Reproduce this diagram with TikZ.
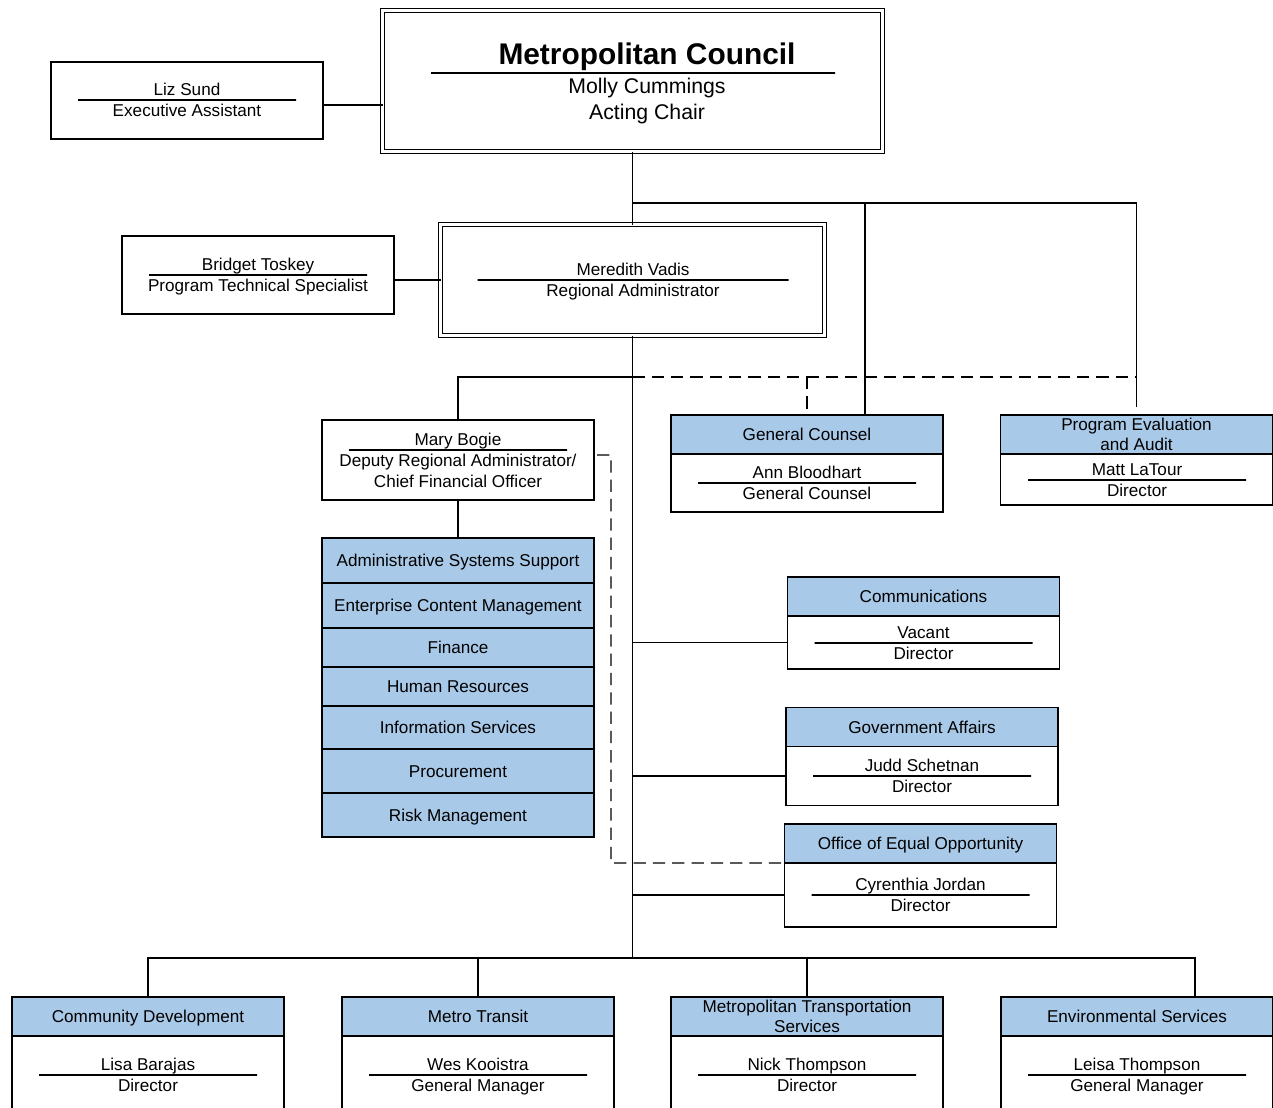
\documentclass[tikz,border=0pt]{standalone}
\usepackage{fontspec}
\setmainfont{Liberation Sans}
\usepackage{tikz}
\usetikzlibrary{positioning}
\definecolor{hdrBlue}{RGB}{169,201,232}
\newlength{\pxu}
\setlength{\pxu}{0.02cm}
\newcommand{\orgfont}{\fontsize{9.75}{11.3}\selectfont}
\newcommand{\person}[6][218]{%
  \node[who] (#2-name) at (#3,#4) {#5};
  \node[namerule=#1] (#2-rule) at (#3,#4+11) {};
  \node[who] (#2-title) at (#3,#4+21) {#6};
}

\begin{document}
\begin{tikzpicture}[x=0.02cm, y=-0.02cm, line width=0.8pt]
  \tikzset{
    box/.style={draw, inner sep=0pt, outer sep=0pt, minimum width={272*\pxu}},
    chief/.style={box, double, double distance=1.4pt},
    hdr/.style={box, fill=hdrBlue, minimum height={39*\pxu}, font=\orgfont},
    hdrone/.style={hdr, text height=7pt, text depth=0pt},
    who/.style={inner sep=0pt, font=\orgfont, text height=7pt, text depth=0pt},
    namerule/.style={draw, inner sep=0pt, outer sep=0pt, minimum height=0pt, minimum width={#1*\pxu}},
    dashed link/.style={dash pattern=on 7pt off 4pt}
  }
  \clip (0,0) rectangle (1273,1107);

  \node[chief, minimum width={500*\pxu}, minimum height={141*\pxu}] (council) at (632.5,81) {};
  \node[inner sep=0pt, font=\fontsize{17}{20}\selectfont\bfseries, text height=12.2pt, text depth=0pt] (council-name) at (647,54) {Metropolitan Council};
  \node[namerule=404] (council-rule) at (633,73) {};
  \node[inner sep=0pt, font=\fontsize{12.1}{14.7}\selectfont, text height=8.7pt, text depth=0pt] (council-chair) at (647,86) {Molly Cummings};
  \node[inner sep=0pt, font=\fontsize{12.1}{14.7}\selectfont, text height=8.7pt, text depth=0pt] (council-role) at (647,112) {Acting Chair};

  \node[box, minimum height={77*\pxu}] (liz) at (187,100.5) {};
  \person{liz}{187}{89}{Liz Sund}{Executive Assistant}

  \node[chief, minimum width={384*\pxu}, minimum height={111*\pxu}] (admin) at (632.5,280) {};
  \person[311]{admin}{633}{269}{Meredith Vadis}{Regional Administrator}

  \node[box, minimum height={78*\pxu}] (bridget) at (258,275) {};
  \person{bridget}{258}{264}{Bridget Toskey}{Program Technical Specialist}

  \node[box, minimum height={80*\pxu}] (mary) at (458,460) {};
  \node[who] (mary-name) at (458,439) {Mary Bogie};
  \node[namerule=218] (mary-rule) at (458,450) {};
  \node[who] (mary-title) at (458,460) {Deputy Regional Administrator/};
  \node[who] (mary-cfo) at (458,481) {Chief Financial Officer};

  \node[hdrone, minimum height={45*\pxu}, anchor=north] (ass) at (458,538) {Administrative Systems Support};
  \node[hdrone, minimum height={45*\pxu}, below=0pt of ass] (ecm) {Enterprise Content Management};
  \node[hdrone, minimum height={39*\pxu}, below=0pt of ecm] (fin) {Finance};
  \node[hdrone, minimum height={39*\pxu}, below=0pt of fin] (hr) {Human Resources};
  \node[hdrone, minimum height={43*\pxu}, below=0pt of hr] (is) {Information Services};
  \node[hdrone, minimum height={44*\pxu}, below=0pt of is] (proc) {Procurement};
  \node[hdrone, minimum height={44*\pxu}, below=0pt of proc] (risk) {Risk Management};

  \node[hdrone] (gc-h) at (807,434.5) {General Counsel};
  \node[box, minimum height={58*\pxu}, below=0pt of gc-h] (gc-b) {};
  \person{gc}{807}{472}{Ann Bloodhart}{General Counsel}

  \node[hdr, align=center] (pe-h) at (1136.5,434.5) {Program Evaluation\\and Audit};
  \node[box, minimum height={51*\pxu}, below=0pt of pe-h] (pe-b) {};
  \person{pe}{1137}{469}{Matt LaTour}{Director}

  \node[hdrone] (comm-h) at (923.5,596.5) {Communications};
  \node[box, minimum height={53*\pxu}, below=0pt of comm-h] (comm-b) {};
  \person{comm}{923.5}{632}{Vacant}{Director}

  \node[hdrone] (ga-h) at (922,727) {Government Affairs};
  \node[box, minimum height={59*\pxu}, below=0pt of ga-h] (ga-b) {};
  \person{ga}{922}{765}{Judd Schetnan}{Director}

  \node[hdrone] (oeo-h) at (920.5,843.5) {Office of Equal Opportunity};
  \node[box, minimum height={64*\pxu}, below=0pt of oeo-h] (oeo-b) {};
  \person{oeo}{920.5}{884}{Cyrenthia Jordan}{Director}

  \node[hdrone] (cd-h) at (148,1016.5) {Community Development};
  \node[box, minimum height={100*\pxu}, below=0pt of cd-h] (cd-b) {};
  \person{cd}{148}{1064}{Lisa Barajas}{Director}

  \node[hdrone] (mt-h) at (478,1016.5) {Metro Transit};
  \node[box, minimum height={100*\pxu}, below=0pt of mt-h] (mt-b) {};
  \person{mt}{478}{1064}{Wes Kooistra}{General Manager}

  \node[hdr, align=center] (mts-h) at (807,1016.5) {Metropolitan Transportation\\Services};
  \node[box, minimum height={100*\pxu}, below=0pt of mts-h] (mts-b) {};
  \person{mts}{807}{1064}{Nick Thompson}{Director}

  \node[hdrone] (es-h) at (1137,1016.5) {Environmental Services};
  \node[box, minimum height={100*\pxu}, below=0pt of es-h] (es-b) {};
  \person{es}{1137}{1064}{Leisa Thompson}{General Manager}

  \coordinate (top-bus) at (632.5,203);
  \coordinate (mid-bus) at (632.5,377);
  \coordinate (low-bus) at (632.5,958);
  \coordinate (eo-turn) at (611,863);

  \draw ([yshift={-4.5*\pxu}]liz.east) -- ([yshift={-4.5*\pxu}]liz.east -| council.west);
  \draw (admin.west -| bridget.east) -- (admin.west);
  \draw (council.south) -- (admin.north);
  \draw (top-bus) -| ([xshift={58*\pxu}]gc-h.north);
  \draw (top-bus) -| ([yshift={8*\pxu}]pe-h.north);
  \draw (admin.south) -- (low-bus);
  \draw (mid-bus) -| (mary.north);
  \draw[dashed link] (mid-bus) -- (mid-bus -| pe-h.north);
  \draw[dashed link] (mid-bus -| gc-h.north) -- (gc-h.north);
  \draw (mary.south) -- (ass.north);
  \draw[dashed link] ([xshift={3*\pxu}, yshift={5*\pxu}]mary.east) -| (eo-turn) -- (oeo-h.south west);
  \draw (comm-b.west -| low-bus) -- (comm-b.west);
  \draw (ga-b.west -| low-bus) -- (ga-b.west);
  \draw (oeo-b.west -| low-bus) -- (oeo-b.west);
  \draw (cd-h.north) |- (low-bus) -| ([xshift={58*\pxu}]es-h.north);
  \draw (mt-h.north) -- (mt-h.north |- low-bus);
  \draw (mts-h.north) -- (mts-h.north |- low-bus);
\end{tikzpicture}
\end{document}
